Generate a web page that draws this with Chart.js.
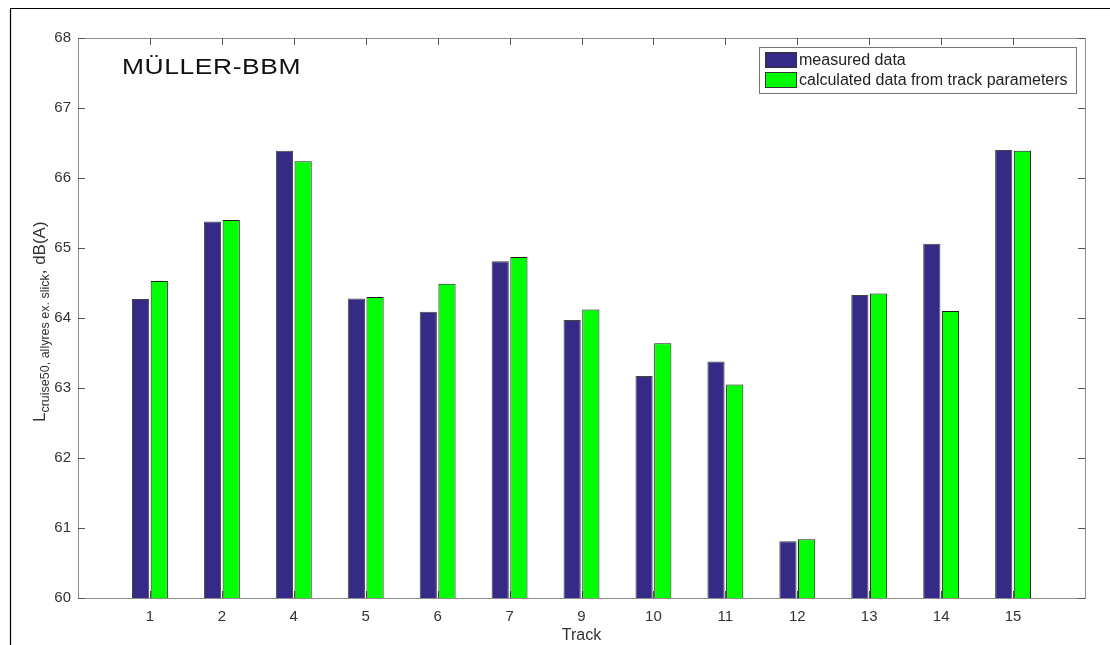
<!DOCTYPE html>
<html>
<head>
<meta charset="utf-8">
<script src="https://cdn.jsdelivr.net/npm/chart.js@4.4.1/dist/chart.umd.min.js"></script>
<style>
  html, body { margin: 0; padding: 0; background: #fff; }
  #wrap { position: relative; width: 1110px; height: 645px; }
</style>
</head>
<body>
<div id="wrap"><canvas id="barChart" width="1110" height="645"></canvas></div>
<script>
// track labels (blank ones pad the axis on both ends)
const tracks = ['', '1', '2', '4', '5', '6', '7', '9', '10', '11', '12', '13', '14', '15', ''];
const measured   = [null, 64.27, 65.38, 66.39, 64.28, 64.09, 64.81, 63.97, 63.17, 63.38, 60.81, 64.33, 65.06, 66.40, null];
const calculated = [null, 64.53, 65.40, 66.24, 64.30, 64.49, 64.87, 64.12, 63.64, 63.05, 60.84, 64.35, 64.10, 66.39, null];
const yTicks = [60, 61, 62, 63, 64, 65, 66, 67, 68];
const seriesNames = ['measured data', 'calculated data from track parameters'];

const FONT = '"Liberation Sans", Arial, sans-serif';
const axisGrey = '#8f8f8f';

// axis box, inward ticks, logo, legend and y title
const matlabAxes = {
    id: 'matlabAxes',
    beforeDatasetsDraw(chart) {
        const ctx = chart.ctx;
        const a = chart.chartArea;
        const xs = chart.scales.x, ys = chart.scales.y;
        ctx.save();
        ctx.strokeStyle = axisGrey;
        ctx.lineWidth = 1;
        ctx.strokeRect(Math.round(a.left) + 0.5, Math.round(a.top) + 0.5,
                       Math.round(a.right - a.left), Math.round(a.bottom - a.top));
        ctx.strokeStyle = '#555';
        ctx.beginPath();
        yTicks.forEach(v => {
            const y = Math.round(ys.getPixelForValue(v)) + 0.5;
            ctx.moveTo(a.left, y); ctx.lineTo(a.left + 7, y);
            ctx.moveTo(a.right, y); ctx.lineTo(a.right - 7, y);
        });
        tracks.forEach((t, i) => {
            if (!t) return;
            const x = Math.round(xs.getPixelForValue(i)) + 0.5;
            ctx.moveTo(x, a.top); ctx.lineTo(x, a.top + 7);
            ctx.moveTo(x, a.bottom); ctx.lineTo(x, a.bottom - 7);
        });
        ctx.stroke();
        ctx.restore();
    },
    afterDraw(chart) {
        const ctx = chart.ctx;
        ctx.save();

        // outer frame (partial, cropped picture)
        ctx.strokeStyle = '#000';
        ctx.lineWidth = 1.2;
        ctx.beginPath();
        ctx.moveTo(10.5, 645); ctx.lineTo(10.5, 8.5); ctx.lineTo(1110, 8.5);
        ctx.stroke();

        // logo text, wide lettering
        ctx.save();
        ctx.fillStyle = '#111';
        ctx.font = '22px ' + FONT;
        ctx.textBaseline = 'alphabetic';
        ctx.translate(122, 74);
        ctx.scale(1.2, 1);
        ctx.letterSpacing = '0.5px';
        ctx.fillText('MÜLLER-BBM', 0, 0);
        ctx.restore();

        // legend
        const lx = 759.5, ly = 47.5, lw = 317, lh = 46;
        ctx.fillStyle = '#fff';
        ctx.fillRect(lx, ly, lw, lh);
        ctx.strokeStyle = '#777';
        ctx.lineWidth = 1;
        ctx.strokeRect(lx, ly, lw, lh);
        const ds = chart.data.datasets;
        ctx.font = '16px ' + FONT;
        ctx.textBaseline = 'middle';
        ds.forEach((d, i) => {
            const ry = 52 + i * 20;
            ctx.fillStyle = d.backgroundColor;
            ctx.fillRect(765.5, ry + 0.5, 31, 15);
            ctx.strokeStyle = '#333';
            ctx.strokeRect(765.5, ry + 0.5, 31, 15);
            ctx.fillStyle = '#222';
            ctx.fillText(d.label, 799, ry + 9);
        });

        // y axis title with subscript
        ctx.translate(45, 422);
        ctx.rotate(-Math.PI / 2);
        ctx.fillStyle = '#333';
        ctx.textBaseline = 'alphabetic';
        ctx.font = '17px ' + FONT;
        ctx.fillText('L', 0, 0);
        let x = ctx.measureText('L').width;
        ctx.font = '12.5px ' + FONT;
        const sub = 'cruise50, allyres ex. slick';
        ctx.fillText(sub, x, 4);
        x += ctx.measureText(sub).width;
        ctx.font = '17px ' + FONT;
        ctx.fillText(', dB(A)', x, 0);
        ctx.restore();
    }
};

const ctx = document.getElementById('barChart');
new Chart(ctx, {
    type: 'bar',
    data: {
        labels: tracks,
        datasets: [{
            label: seriesNames[0],
            data: measured,
            backgroundColor: '#352A86',
            borderColor: '#444',
            borderWidth: 1
        }, {
            label: seriesNames[1],
            data: calculated,
            backgroundColor: '#00FF00',
            borderColor: '#1a1a1a',
            borderWidth: 1
        }]
    },
    options: {
        responsive: false,
        animation: false,
        layout: { padding: { left: 0, top: 38, right: 25, bottom: 0 } },
        datasets: { bar: { categoryPercentage: 0.52, barPercentage: 0.92 } },
        plugins: {
            legend: { display: false },
            tooltip: { enabled: false }
        },
        scales: {
            x: {
                offset: false,
                grid: { display: false, drawTicks: false },
                border: { display: false },
                ticks: { color: '#333', font: { family: FONT, size: 15 }, padding: 10, autoSkip: false, maxRotation: 0 },
                title: { display: true, text: 'Track', color: '#333', font: { family: FONT, size: 16 }, padding: { top: 0, bottom: 0 } },
                afterFit(scale) { scale.height = 47; }
            },
            y: {
                min: 60,
                max: 68,
                grid: { display: false, drawTicks: false },
                border: { display: false },
                ticks: { stepSize: 1, color: '#333', font: { family: FONT, size: 15 }, padding: 7 },
                afterFit(scale) { scale.width = 78; }
            }
        }
    },
    plugins: [matlabAxes]
});
</script>
</body>
</html>
